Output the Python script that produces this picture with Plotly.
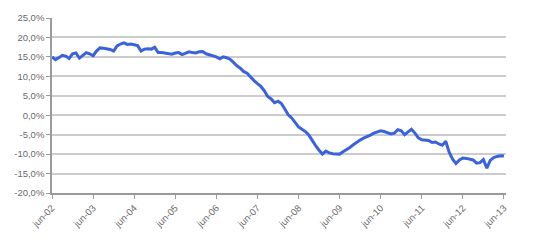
import plotly.graph_objects as go

months = ["jun", "jul", "ago", "sep", "oct", "nov", "dic", "ene", "feb", "mar", "abr", "may"]
# monthly categories from jun-02 to jun-13
categories = []
for k in range(133):
    m = months[k % 12]
    yr = 2 + (k + 6) // 12 if k % 12 >= 7 else 2 + k // 12
    categories.append(f"{m}-{yr:02d}")

values = [
    15.0, 14.3, 14.8, 15.4, 15.2, 14.6, 15.8, 16.0, 14.7, 15.3, 16.1, 15.8,
    15.3, 16.5, 17.3, 17.2, 17.1, 16.9, 16.5, 17.8, 18.3, 18.6, 18.2, 18.3,
    18.1, 17.9, 16.5, 17.0, 17.1, 17.0, 17.5, 16.1, 16.1, 16.0, 15.9, 15.7,
    16.0, 16.1, 15.6, 16.0, 16.3, 16.1, 16.0, 16.3, 16.4, 15.8, 15.5, 15.3,
    15.0, 14.5, 15.0, 14.8, 14.4, 13.6, 12.7, 12.1, 11.2, 10.8, 9.7, 8.9,
    8.1, 7.4, 6.3, 4.8, 4.2, 3.2, 3.6, 3.0, 1.6, 0.1, -0.7, -1.8,
    -3.0, -3.6, -4.2, -5.1, -6.6, -7.8, -9.0, -10.0, -9.2, -9.7, -9.9, -10.0,
    -10.0, -9.4, -8.9, -8.3, -7.6, -6.9, -6.4, -5.9, -5.6, -5.1, -4.6, -4.3,
    -4.0, -4.2, -4.6, -4.8, -4.6, -3.7, -4.0, -5.0, -4.3, -3.6, -4.6, -5.8,
    -6.3, -6.4, -6.5, -7.0, -6.9, -7.4, -7.7, -6.7, -9.5, -11.3, -12.4, -11.5,
    -11.0, -11.1, -11.4, -11.5, -12.3, -12.2, -11.4, -13.6, -11.6, -10.9, -10.6, -10.4,
    -10.5,
]

tick_labels = [c for c in categories if c.startswith("jun")]
y_ticks = [25, 20, 15, 10, 5, 0, -5, -10, -15, -20]
y_tick_text = [f"{v:.1f}".replace(".", ",") + "%" for v in y_ticks]

fig = go.Figure(go.Scatter(
    x=categories, y=values, mode="lines",
    line=dict(color="#3b62dd", width=3), hoverinfo="skip",
))

fig.update_layout(
    width=533, height=242,
    margin=dict(l=52, r=27, t=12, b=49),
    paper_bgcolor="white", plot_bgcolor="white",
    showlegend=False,
    font=dict(family="Liberation Sans, Arial, sans-serif", size=9.5, color="#6a6a6a"),
)
fig.update_xaxes(
    type="category", categoryorder="array", categoryarray=categories,
    range=[0, 132.6],
    tickmode="array", tickvals=tick_labels, ticktext=tick_labels,
    tickangle=-45, ticks="outside", ticklen=4, tickcolor="#9a9a9a",
    showline=True, linecolor="#9a9a9a", linewidth=1.5,
    showgrid=False, zeroline=False,
)
fig.update_yaxes(
    range=[-20, 25], tickmode="array", tickvals=y_ticks, ticktext=y_tick_text,
    ticks="outside", ticklen=4, tickcolor="#9a9a9a",
    showline=True, linecolor="#9a9a9a", linewidth=1.5,
    showgrid=True, gridcolor="#cccccc", gridwidth=1.5,
    zeroline=False,
)

fig.write_html("out.html")
